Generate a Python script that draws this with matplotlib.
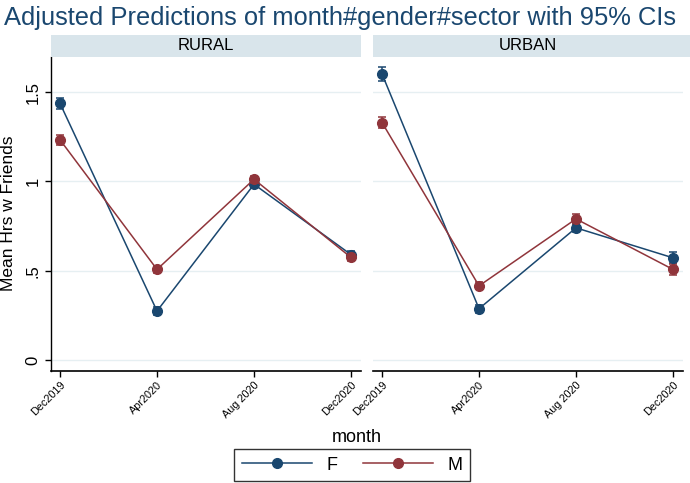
import numpy as np
import matplotlib
matplotlib.use("Agg")
import matplotlib.pyplot as plt
from matplotlib.lines import Line2D

plt.rcParams['font.family'] = ['Liberation Sans', 'DejaVu Sans']

months = ['Dec2019', 'Apr2020', 'Aug 2020', 'Dec2020']
sectors = ['RURAL', 'URBAN']

# predicted means and CI half-widths
rural_f = [1.437, 0.274, 0.984, 0.590]
rural_m = [1.233, 0.507, 1.012, 0.574]
urban_f = [1.602, 0.287, 0.740, 0.572]
urban_m = [1.330, 0.415, 0.790, 0.507]
rural_f_ci = [0.032, 0.022, 0.020, 0.022]
rural_m_ci = [0.028, 0.020, 0.020, 0.020]
urban_f_ci = [0.040, 0.022, 0.024, 0.030]
urban_m_ci = [0.032, 0.020, 0.026, 0.030]

navy = '#1a476f'
maroon = '#90353b'
strip_col = '#d9e5eb'
grid_col = '#e6eff2'

fig = plt.figure(figsize=(6.9, 4.83), dpi=100)

W, H = 690.0, 483.0
panels = [(51, rural_f, rural_m, rural_f_ci, rural_m_ci),
          (373, urban_f, urban_m, urban_f_ci, urban_m_ci)]

x = np.arange(len(months))
for i, (left, f, m, fci, mci) in enumerate(panels):
    ax = fig.add_axes([left / W, 1 - 371 / H, 310 / W, 314 / H])
    ax.set_xlim(-0.093, 3.103)
    ax.set_ylim(-0.062, 1.697)
    ax.set_yticks([0, 0.5, 1, 1.5])
    ax.grid(axis='y', color=grid_col, linewidth=1.0)
    ax.set_axisbelow(True)
    for vals, ci, col in [(f, fci, navy), (m, mci, maroon)]:
        ax.errorbar(x, vals, yerr=ci, color=col, marker='o', markersize=7,
                    linewidth=1.1, elinewidth=1.1, capsize=3, capthick=1.1)
    ax.set_xticks(x)
    ax.set_xticklabels(months, rotation=45, ha='right', rotation_mode='anchor',
                       fontsize=7.8)
    for s in ['top', 'right']:
        ax.spines[s].set_visible(False)
    ax.spines['bottom'].set_linewidth(1.2)
    ax.tick_params(axis='x', length=4.5, width=1.0, pad=2)
    if i == 0:
        ax.set_yticklabels(['0', '.5', '1', '1.5'], rotation=90, va='center',
                           fontsize=12)
        ax.tick_params(axis='y', length=4.5, width=1.0, pad=3)
        ax.spines['left'].set_linewidth(1.0)
    else:
        ax.spines['left'].set_visible(False)
        ax.tick_params(axis='y', left=False, labelleft=False)

    # strip header
    right = 361 if i == 0 else 690
    sax = fig.add_axes([left / W, 1 - 57 / H, (right - left) / W, 22 / H])
    sax.set_facecolor(strip_col)
    sax.set_xticks([])
    sax.set_yticks([])
    for s in sax.spines.values():
        s.set_visible(False)
    sax.text(0.5 if i == 0 else (310 / 2) / (right - left), 0.5, sectors[i],
             ha='center', va='center', fontsize=12)

fig.text(4 / W, 1 - 18 / H, 'Adjusted Predictions of month#gender#sector with 95% CIs',
         ha='left', va='center', fontsize=18.4, color=navy)
fig.text(9 / W, 1 - 213 / H, 'Mean Hrs w Friends', rotation=90,
         ha='center', va='center', fontsize=12.5)
fig.text(357 / W, 1 - 437 / H, 'month', ha='center', va='center', fontsize=13)

handles = [Line2D([], [], color=navy, marker='o', markersize=7, linewidth=1.1),
           Line2D([], [], color=maroon, marker='o', markersize=7, linewidth=1.1)]
leg = fig.legend(handles, ['F', 'M'], loc='center', ncol=2,
                 bbox_to_anchor=(352 / W, 1 - 465 / H), fontsize=13,
                 frameon=True, fancybox=False, edgecolor='black',
                 handlelength=3.9, handletextpad=0.8, columnspacing=1.4,
                 borderpad=0.4)
leg.get_frame().set_linewidth(1.0)

fig.savefig('out.png', dpi=100)
